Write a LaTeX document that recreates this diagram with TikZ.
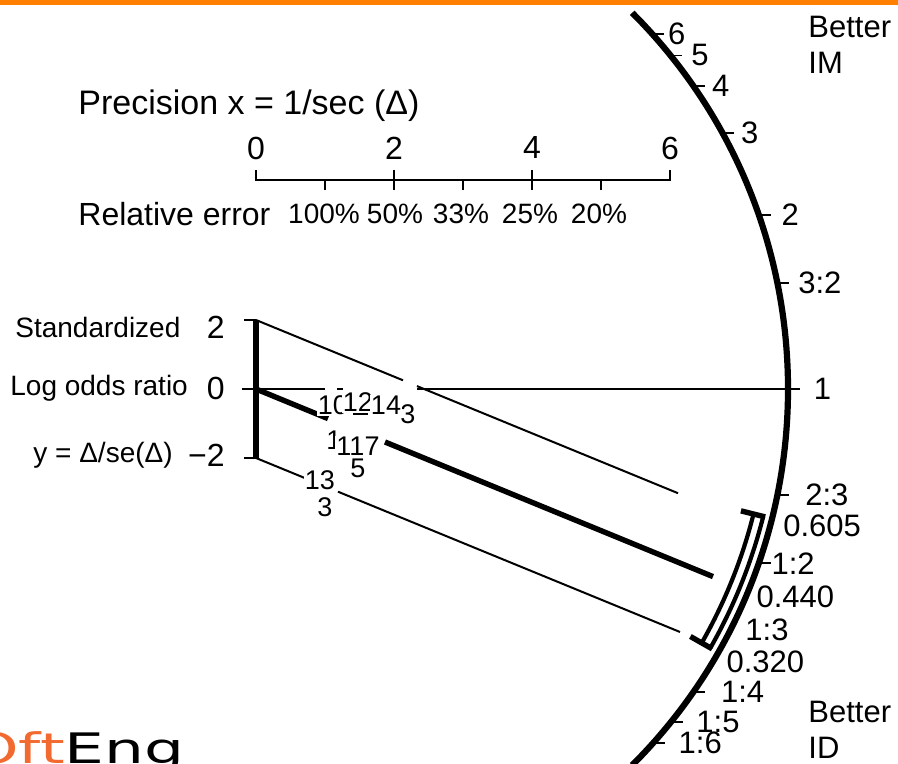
\documentclass[tikz,border=0pt]{standalone}
\usepackage{fontspec}
\setmainfont{Liberation Sans}
\newfontfamily\logofont{DejaVu Sans}
\usetikzlibrary{positioning, calc}
\definecolor{barorange}{RGB}{255,128,0}
\definecolor{logoorange}{RGB}{242,106,48}

\begin{document}
\begin{tikzpicture}[x=0.5pt, y=0.5pt,
        radialarc/.style={line width=3.1pt},
        heavyline/.style={line width=2.7pt},
        bandline/.style={line width=1pt},
        ticks/.style={line width=0.9pt},
        ciside/.style={line width=2.1pt},
        cicap/.style={line width=2.7pt},
        axistext/.style={font=\fontsize{16}{19}\selectfont, inner sep=0pt},
        pcttext/.style={font=\fontsize{14}{17}\selectfont, inner sep=0pt},
        sidetext/.style={font=\fontsize{14}{17}\selectfont, inner sep=0pt},
        sidenum/.style={font=\fontsize{16}{19}\selectfont, inner sep=0pt},
        arctext/.style={font=\fontsize{15.5}{18}\selectfont, inner sep=0pt},
        ptlabel/.style={font=\fontsize{13.5}{16}\selectfont, fill=white, inner sep=0.6pt}
    ]
        \useasboundingbox (-256,-375) rectangle (642,389);
        \fill[barorange] (-256,384) rectangle (642,389);

        \node[axistext, anchor=west, font=\fontsize{17}{20}\selectfont] (prec) at (-178,283) {Precision x = 1/sec (Δ)};
        \foreach \k in {0,2,4,6} \node[axistext] (p\k) at (69*\k,241) {\k};
        \draw[ticks] (0,219) -- (0,209) -- (414,209) -- (414,219);
        \foreach \k in {2,4} \draw[ticks] (69*\k,219) -- (69*\k,199);
        \foreach \k in {1,3,5} \draw[ticks] (69*\k,209) -- (69*\k,199);
        \node[axistext, anchor=west] (relerr) at (-178,175) {Relative error};
        \foreach \k/\x/\p in {1/68/100, 2/139/50, 3/205/33, 4/274/25, 5/343/20}
            \node[pcttext] (e\k) at (\x,175) {\p\%};

        \draw[heavyline] (0,69) -- (0,-69);
        \draw[ticks] (-12,69) -- (0,69);
        \draw[ticks] (-12,-69) -- (0,-69);
        \node[sidenum, anchor=east] (z2) at (-31,62) {2};
        \node[sidenum, anchor=east] (z0) at (-31,1) {0};
        \node[sidenum, anchor=east] (zm2) at (-31,-66) {−2};
        \node[sidetext, anchor=west] (std) at (-241,62) {Standardized};
        \node[sidetext, anchor=west] (lor) at (-246,1) {Log odds ratio};
        \node[sidetext, anchor=west] (yeq) at (-223,-66) {y = Δ/se(Δ)};

        \draw[bandline] (-14,0) -- (69,0);
        \draw[bandline] (81,0) -- (87,0);
        \draw[bandline] (161,0) -- (542,0);
        \draw[bandline] (0,69) -- (147,8.7);
        \draw[bandline] (161,2.9) -- (422,-104.2);
        \draw[heavyline] (0,0) -- (72,-29.6);
        \draw[heavyline] (129,-53) -- (457,-187.6);
        \draw[bandline] (0,-69) -- (49,-89.1);
        \draw[bandline] (82,-102.7) -- (424,-243);

        \draw[radialarc] (45:532) arc[start angle=45, end angle=-45, radius=532];
        \foreach \v/\t/\g in {6/6/3, 5/5/8, 4/4/6, 3/3/6, 2/2/10, 1.5/3:2/8, 1/1/13,
                0.66667/2:3/15, 0.5/1:2/0, 0.25/1:4/15, 0.2/1:5/13, 0.166667/1:6/13} {
            \pgfmathsetmacro\ang{atan(0.5*ln(\v))}
            \draw[ticks] (\ang:532) -- ++(12,0) node[arctext, anchor=west, xshift=\g*0.5pt] {\t};
        }

        \pgfmathsetmacro\ahi{atan(0.5*ln(0.605))}
        \pgfmathsetmacro\alo{atan(0.5*ln(0.320))}
        \pgfmathsetmacro\apool{atan(0.5*ln(0.440))}
        \draw[ciside] (\ahi:513) arc[start angle=\ahi, end angle=\alo, radius=513];
        \draw[ciside] (\ahi:523) arc[start angle=\ahi, end angle=\alo, radius=523];
        \draw[cicap] (\ahi:500) -- (\ahi:525);
        \draw[cicap] (\alo:500) -- (\alo:525);
        \node[arctext, anchor=west] (vhi) at ($(\ahi:532)+(11,-7)$) {0.605};
        \node[arctext, anchor=west] (vpool) at ($(\apool:532)+(8,-6)$) {0.440};
        \node[arctext, anchor=west] (vlo) at ($(\alo:532)+(8,-10)$) {0.320};
        \node[arctext, anchor=west] (r13) at (489,-241) {1:3};

        \node[ptlabel] (s10) at (77,-16) {10};
        \node[ptlabel] (s3a) at (152,-25) {3};
        \node[ptlabel] (s12) at (102,-13) {12};
        \node[ptlabel] (s14) at (130,-16) {14};
        \draw[ticks] (97,-25) -- (112,-25);
        \node[ptlabel] (s1) at (78,-51) {1};
        \node[ptlabel] (s5) at (102,-79) {5};
        \node[ptlabel] (s117) at (102,-57) {117};
        \node[ptlabel] (s13) at (64,-91) {13};
        \node[ptlabel] (s3b) at (69,-118) {3};

        \node[arctext, anchor=west] (bim) at (552,362) {Better};
        \node[arctext, anchor=west] (im) at (552,326) {IM};
        \node[arctext, anchor=west] (bid) at (552,-323) {Better};
        \node[arctext, anchor=west] (id) at (552,-359) {ID};

        \node[anchor=base west, inner sep=0pt, font=\logofont\fontsize{21}{24}\selectfont] (logo) at (-287,-374)
            {\scalebox{1.5}[1]{\textcolor{logoorange}{Oft}Eng}};
    \end{tikzpicture}
\end{document}
